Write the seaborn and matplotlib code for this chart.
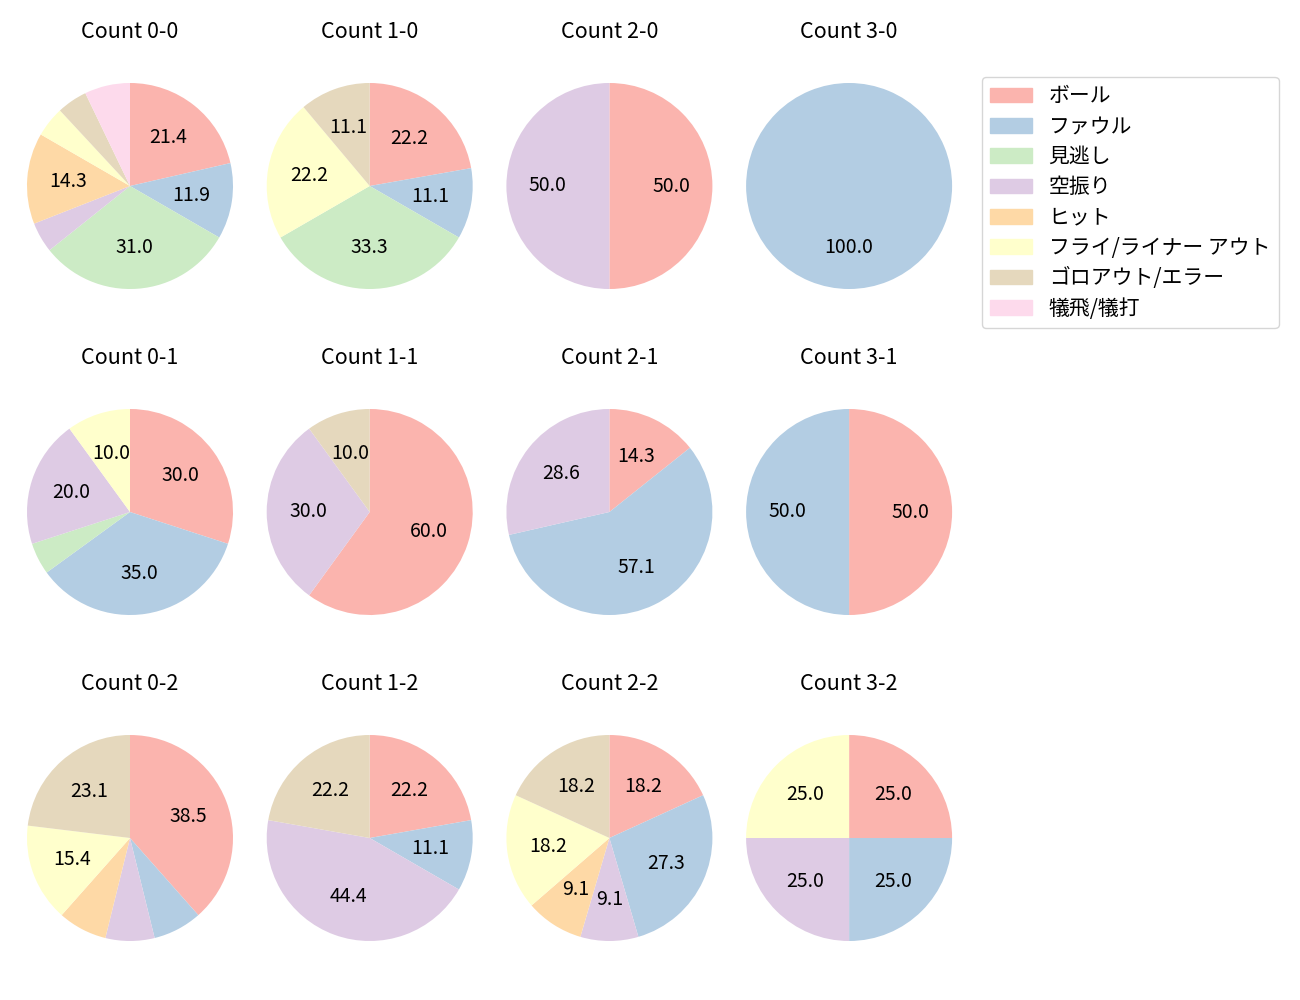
import matplotlib
matplotlib.use("Agg")
import matplotlib.pyplot as plt
import matplotlib.patches as mpatches
import seaborn as sns

plt.rcParams['font.family'] = ['Noto Sans CJK JP', 'DejaVu Sans']

categories = ["ボール", "ファウル", "見逃し", "空振り", "ヒット",
              "フライ/ライナー アウト", "ゴロアウト/エラー", "犠飛/犠打"]

counts = ["0-0", "1-0", "2-0", "3-0",
          "0-1", "1-1", "2-1", "3-1",
          "0-2", "1-2", "2-2", "3-2"]

# Pitch outcome counts per ball-strike count (order follows categories)
c_0_0 = [9, 5, 13, 2, 6, 2, 2, 3]
c_1_0 = [2, 1, 3, 0, 0, 2, 1, 0]
c_2_0 = [1, 0, 0, 1, 0, 0, 0, 0]
c_3_0 = [0, 1, 0, 0, 0, 0, 0, 0]
c_0_1 = [6, 7, 1, 4, 0, 2, 0, 0]
c_1_1 = [6, 0, 0, 3, 0, 0, 1, 0]
c_2_1 = [1, 4, 0, 2, 0, 0, 0, 0]
c_3_1 = [1, 1, 0, 0, 0, 0, 0, 0]
c_0_2 = [5, 1, 0, 1, 1, 2, 3, 0]
c_1_2 = [2, 1, 0, 4, 0, 0, 2, 0]
c_2_2 = [2, 3, 0, 1, 1, 2, 2, 0]
c_3_2 = [1, 1, 0, 1, 0, 1, 0, 0]

series = [c_0_0, c_1_0, c_2_0, c_3_0,
          c_0_1, c_1_1, c_2_1, c_3_1,
          c_0_2, c_1_2, c_2_2, c_3_2]

colors = sns.color_palette("Pastel1", 8)

W, H = 1300, 1000
fig = plt.figure(figsize=(13, 10), dpi=100)

box = 240
for i, (name, vals) in enumerate(zip(counts, series)):
    r, c = divmod(i, 4)
    cx = 130 + 239.7 * c
    cy = 186 + 326 * r
    ax = fig.add_axes([(cx - box / 2) / W, 1 - (cy + box / 2) / H, box / W, box / H])
    ax.pie(vals, colors=colors, startangle=90, counterclock=False,
           autopct=lambda p: f"{p:.1f}" if p >= 8 else "",
           pctdistance=0.6, textprops={"fontsize": 14},
           wedgeprops={"linewidth": 0})
    ax.set_xlim(-1.165, 1.165)
    ax.set_ylim(-1.165, 1.165)
    ax.set_aspect("equal")
    ax.set_title(f"Count {name}", fontsize=15.5, pad=20)

handles = [mpatches.Patch(color=col, label=lab) for col, lab in zip(colors, categories)]
fig.legend(handles=handles, loc="upper left",
           bbox_to_anchor=(982 / W, 1 - 77 / H), borderaxespad=0,
           fontsize=15, labelspacing=0.4, frameon=True)

fig.savefig("out.png", dpi=100)
